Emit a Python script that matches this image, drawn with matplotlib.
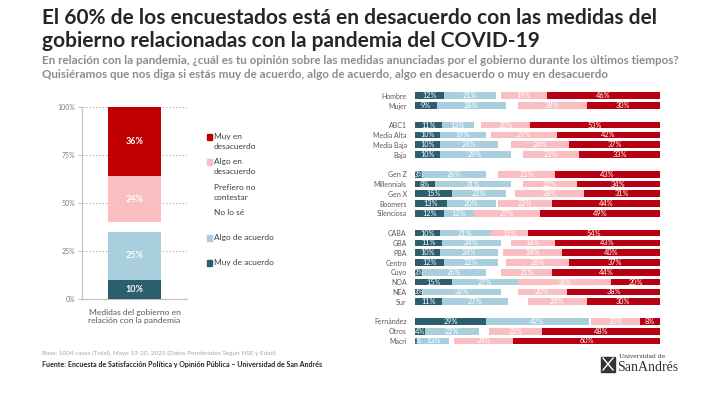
import matplotlib.pyplot as plt
from matplotlib.patches import Rectangle

plt.rcParams['font.family'] = ['Lato', 'DejaVu Sans']

W, H = 725, 397

C_MUY_AC = "#2b5e6e"
C_ALGO_AC = "#a9cfdf"
C_ALGO_DES = "#f9bdc2"
C_MUY_DES = "#b70012"
C_TXT = "#595959"

# total (left bar)
total_label = "Medidas del gobierno en\nrelación con la pandemia"
total_muy_ac = 10
total_algo_ac = 25
total_algo_des = 24
total_muy_des = 36

# segments (right bars)
row_labels = [
    "Hombre", "Mujer",
    "ABC1", "Media Alta", "Media Baja", "Baja",
    "Gen Z", "Millennials", "Gen X", "Boomers", "Silenciosa",
    "CABA", "GBA", "PBA", "Centro", "Cuyo", "NOA", "NEA", "Sur",
    "Fernández", "Otros", "Macri",
]
group_sizes = [2, 4, 5, 8, 3]
muy_acuerdo = [12, 9, 11, 10, 10, 10, 3, 8, 15, 13, 12,
               10, 11, 10, 12, 3, 15, 3, 11, 29, 4, 1]
algo_acuerdo = [21, 28, 13, 19, 24, 29, 26, 31, 22, 20, 12,
                21, 24, 24, 22, 26, 27, 32, 27, 42, 22, 13]
algo_desacuerdo = [19, 28, 20, 27, 24, 23, 23, 22, 28, 22, 27,
                   15, 18, 24, 26, 21, 38, 20, 24, 20, 22, 24]
muy_desacuerdo = [46, 30, 53, 42, 37, 33, 43, 34, 31, 44, 49,
                  54, 43, 40, 37, 44, 20, 38, 30, 8, 48, 60]


def fx(px):
    return px / W


def fy(py):
    return 1 - py / H


fig = plt.figure(figsize=(W / 100, H / 100), dpi=100)

# titles
fig.text(fx(42), fy(18), "El 60% de los encuestados está en desacuerdo con las medidas del",
         fontsize=15, fontweight="bold", color="#262626", va="center")
fig.text(fx(42), fy(41), "gobierno relacionadas con la pandemia del COVID-19",
         fontsize=15, fontweight="bold", color="#262626", va="center")
fig.text(fx(42), fy(60.5), "En relación con la pandemia, ¿cuál es tu opinión sobre las medidas anunciadas por el gobierno durante los últimos tiempos?",
         fontsize=8.4, fontweight="bold", color="#8c8c8c", va="center")
fig.text(fx(42), fy(74), "Quisiéramos que nos diga si estás muy de acuerdo, algo de acuerdo, algo en desacuerdo o muy en desacuerdo",
         fontsize=8.4, fontweight="bold", color="#8c8c8c", va="center")

# left chart
axl = fig.add_axes([fx(82), fy(299), fx(187) - fx(82), (299 - 107.3) / H])
bw = 0.505
axl.bar(0.5, total_muy_ac, width=bw, color=C_MUY_AC, zorder=3)
axl.bar(0.5, total_algo_ac, width=bw, bottom=total_muy_ac, color=C_ALGO_AC, zorder=3)
axl.bar(0.5, total_algo_des, width=bw, bottom=100 - total_muy_des - total_algo_des,
        color=C_ALGO_DES, zorder=3)
axl.bar(0.5, total_muy_des, width=bw, bottom=100 - total_muy_des, color="#c00000", zorder=3)
for val, mid in [(total_muy_ac, total_muy_ac / 2),
                 (total_algo_ac, total_muy_ac + total_algo_ac / 2),
                 (total_algo_des, 100 - total_muy_des - total_algo_des / 2),
                 (total_muy_des, 100 - total_muy_des / 2)]:
    axl.text(0.5, mid, f"{val}%", color="white", fontsize=6.5, fontweight="bold",
             ha="center", va="center", zorder=4)
axl.set_xlim(0, 1)
axl.set_ylim(0, 100)
axl.set_yticks([0, 25, 50, 75, 100])
axl.set_yticklabels(["0%", "25%", "50%", "75%", "100%"])
axl.set_xticks([0.5])
axl.set_xticklabels([total_label])
axl.tick_params(axis="x", length=0, labelsize=6.1, labelcolor=C_TXT, pad=7)
axl.tick_params(axis="y", length=3, color="#bfbfbf", labelsize=5, labelcolor="#7f7f7f", pad=2)
axl.yaxis.grid(True, linestyle=(0, (1.5, 1.5)), color="#bfbfbf", linewidth=0.8)
axl.set_axisbelow(True)
for s in ["top", "right"]:
    axl.spines[s].set_visible(False)
for s in ["left", "bottom"]:
    axl.spines[s].set_color("#bfbfbf")
    axl.spines[s].set_linewidth(0.8)

# legend
legend_items = [
    ("Muy en\ndesacuerdo", "#c00000", 136.7),
    ("Algo en\ndesacuerdo", C_ALGO_DES, 161.7),
    ("Prefiero no\ncontestar", "white", 187.3),
    ("No lo sé", "white", 212.3),
    ("Algo de acuerdo", C_ALGO_AC, 237.7),
    ("Muy de acuerdo", C_MUY_AC, 263),
]
for text, col, py in legend_items:
    fig.patches.append(Rectangle((fx(206.5), fy(py + 2.8)), fx(5.5), 5.5 / H,
                                 transform=fig.transFigure, color=col))
    fig.text(fx(214), fy(py - 3.5), text, fontsize=6, color="#404040",
             va="top", ha="left", linespacing=1.45)

# right chart
y_pos = []
i = 0
for size in group_sizes:
    for k in range(size):
        y_pos.append(i)
        i += 1
    i += 1

axr = fig.add_axes([fx(415), fy(345.9), fx(660) - fx(415), (345.9 - 90.8) / H])
bh = 0.68
left_des = [100 - a - b for a, b in zip(muy_desacuerdo, algo_desacuerdo)]
left_muy_des = [100 - a for a in muy_desacuerdo]
axr.barh(y_pos, muy_acuerdo, height=bh, color=C_MUY_AC)
axr.barh(y_pos, algo_acuerdo, height=bh, left=muy_acuerdo, color=C_ALGO_AC)
axr.barh(y_pos, algo_desacuerdo, height=bh, left=left_des, color=C_ALGO_DES)
axr.barh(y_pos, muy_desacuerdo, height=bh, left=left_muy_des, color=C_MUY_DES)

for j, y in enumerate(y_pos):
    segs = [
        (muy_acuerdo[j], muy_acuerdo[j] / 2),
        (algo_acuerdo[j], muy_acuerdo[j] + algo_acuerdo[j] / 2),
        (algo_desacuerdo[j], left_des[j] + algo_desacuerdo[j] / 2),
        (muy_desacuerdo[j], left_muy_des[j] + muy_desacuerdo[j] / 2),
    ]
    for val, mid in segs:
        axr.text(mid, y, f"{val}%", color="white", fontsize=5.3,
                 ha="center", va="center")

axr.set_xlim(0, 100)
axr.set_ylim(max(y_pos) + 0.5, -0.5)
axr.set_yticks(y_pos)
axr.set_yticklabels(row_labels)
axr.set_xticks([])
axr.tick_params(axis="y", length=0, labelsize=5, labelcolor=C_TXT, pad=6)
for s in axr.spines.values():
    s.set_visible(False)

# footer
fig.text(fx(42), fy(353), "Base: 1004 casos (Total), Mayo 13-20, 2021 (Datos Ponderados Según NSE y Edad)",
         fontsize=4.6, color="#a6a6a6", va="center")
fig.text(fx(42), fy(364), "Fuente: Encuesta de Satisfacción Política y Opinión Pública – Universidad de San Andrés",
         fontsize=5.1, fontweight="bold", color="#262626", va="center")

# logo
fig.patches.append(Rectangle((fx(601), fy(372)), fx(14), 15 / H,
                             transform=fig.transFigure, color="#333333"))
fig.lines.append(plt.Line2D([fx(603), fx(613)], [fy(358), fy(370)],
                            transform=fig.transFigure, color="white", lw=1))
fig.lines.append(plt.Line2D([fx(603), fx(613)], [fy(370), fy(358)],
                            transform=fig.transFigure, color="white", lw=1))
fig.text(fx(619), fy(356), "Universidad de", fontsize=4.3, family="DejaVu Serif",
         color="#333333", va="center")
fig.text(fx(617), fy(367.5), "SanAndrés", fontsize=10, family="Liberation Serif",
         color="#333333", va="center")

fig.savefig("out.png", dpi=100)
